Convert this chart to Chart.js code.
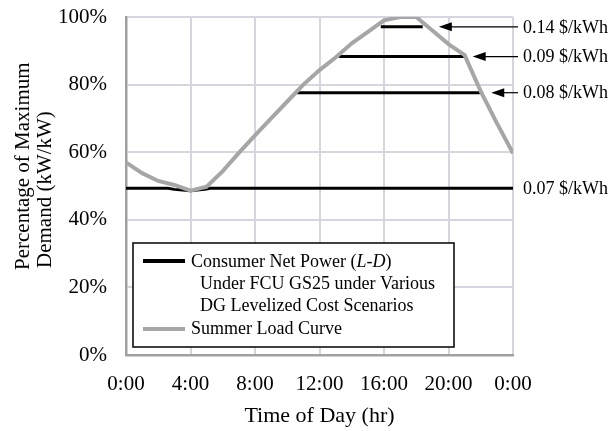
<!DOCTYPE html>
<html>
<head>
<meta charset="utf-8">
<script src="https://cdn.jsdelivr.net/npm/chart.js@4/dist/chart.umd.min.js"></script>
<style>
  html, body { margin: 0; padding: 0; background: #fff; }
  #wrap { width: 612px; height: 431px; position: relative; }
</style>
</head>
<body>
<div id="wrap"><canvas id="grafico"></canvas></div>
<script>
const fonte = '"Liberation Serif", "Times New Roman", serif';

// summer load curve, hourly (% of max demand)
const horas = [0,1,2,3,4,5,6,7,8,9,10,11,12,13,14,15,16,17,18,19,20,21,22,23,24];
const cargaVerao = [57,53.8,51.5,50.3,48.6,49.8,54.4,59.8,65,70,75,80,84.3,88,92.2,95.6,99,100,100,96,92,88.7,78,68.6,59.7];

// consumer net power at 0.07 $/kWh (follows load where load is below the cap)
const horas07 = [0, 2.6, 3, 4, 5, 5.2, 24];
const liquido07 = [49.3, 49.3, 49.0, 48.6, 49.1, 49.3, 49.3];

// capped segments for the other scenarios
const cenarios = ["0.14 $/kWh", "0.09 $/kWh", "0.08 $/kWh", "0.07 $/kWh"];
const niveis = [97.1, 88.3, 77.6, 49.3];
const inicio = [15.8, 13.2, 10.6, 0];
const fim = [18.4, 21.0, 22.1, 24];
const pontaSeta = [19.4, 21.5, 22.65, null];

const eixoX = [0, 4, 8, 12, 16, 20, 24];

const pts = (xs, ys) => xs.map((x, i) => ({x: x, y: ys[i]}));

let datasets = [{
  label: "Summer Load Curve",
  data: pts(horas, cargaVerao),
  borderColor: "#a6a6a6",
  borderWidth: 4,
  pointRadius: 0,
  tension: 0
}, {
  label: "0.07",
  data: pts(horas07, liquido07),
  borderColor: "#000",
  borderWidth: 3,
  pointRadius: 0,
  tension: 0
}];
for (let i = 0; i < 3; i++) {
  datasets.push({
    label: cenarios[i],
    data: pts([inicio[i], fim[i]], [niveis[i], niveis[i]]),
    borderColor: "#000",
    borderWidth: 3,
    pointRadius: 0
  });
}

const extras = {
  id: "extras",
  afterDatasetsDraw(chart) {
    const ctx = chart.ctx, xs = chart.scales.x, ys = chart.scales.y, a = chart.chartArea;
    ctx.save();
    ctx.fillStyle = "#000";
    ctx.strokeStyle = "#000";
    ctx.font = "18px " + fonte;
    ctx.textBaseline = "middle";
    cenarios.forEach((c, i) => {
      const y = ys.getPixelForValue(niveis[i]);
      ctx.fillText(c, a.right + 10, y + 1);
      if (pontaSeta[i] != null) {
        const tip = xs.getPixelForValue(pontaSeta[i]);
        ctx.lineWidth = 1.2;
        ctx.beginPath();
        ctx.moveTo(a.right + 5, y);
        ctx.lineTo(tip + 10, y);
        ctx.stroke();
        ctx.beginPath();
        ctx.moveTo(tip, y);
        ctx.lineTo(tip + 13, y - 4.5);
        ctx.lineTo(tip + 13, y + 4.5);
        ctx.closePath();
        ctx.fill();
      }
    });

    // axis titles
    ctx.font = "22px " + fonte;
    ctx.textAlign = "center";
    ctx.fillText("Time of Day (hr)", (a.left + a.right) / 2, 416);
    ctx.save();
    ctx.font = "21px " + fonte;
    ctx.textAlign = "left";
    ctx.translate(23, 270);
    ctx.rotate(-Math.PI / 2);
    ctx.fillText("Percentage of Maximum", 0, 0);
    ctx.fillText("Demand (kW/kW)", 2, 22);
    ctx.restore();

    // legend
    ctx.textAlign = "left";
    ctx.fillStyle = "#fff";
    ctx.fillRect(133, 243, 321, 104);
    ctx.lineWidth = 1.5;
    ctx.strokeRect(133, 243, 321, 104);
    ctx.lineWidth = 4;
    ctx.strokeStyle = "#000";
    ctx.beginPath(); ctx.moveTo(143, 261); ctx.lineTo(185, 261); ctx.stroke();
    ctx.strokeStyle = "#a6a6a6";
    ctx.beginPath(); ctx.moveTo(143, 329); ctx.lineTo(185, 329); ctx.stroke();
    ctx.fillStyle = "#000";
    ctx.font = "18px " + fonte;
    let t = "Consumer Net Power ";
    ctx.fillText(t, 191, 262);
    let w = ctx.measureText(t).width;
    ctx.fillText("(", 191 + w, 262);
    w += ctx.measureText("(").width;
    ctx.font = "italic 18px " + fonte;
    ctx.fillText("L-D", 191 + w, 262);
    w += ctx.measureText("L-D").width;
    ctx.font = "18px " + fonte;
    ctx.fillText(")", 191 + w, 262);
    ctx.fillText("Under FCU GS25 under Various", 200, 284);
    ctx.fillText("DG Levelized Cost Scenarios", 200, 306);
    ctx.fillText("Summer Load Curve", 191, 329);
    ctx.restore();
  }
};

new Chart(document.getElementById("grafico"), {
  type: "line",
  data: { datasets: datasets },
  options: {
    responsive: true,
    maintainAspectRatio: false,
    animation: false,
    layout: { padding: { left: 0, right: 99, top: 17, bottom: 0 } },
    plugins: { legend: { display: false }, tooltip: { enabled: false } },
    scales: {
      x: {
        type: "linear", min: 0, max: 24,
        afterFit: s => { s.height = 76; s.paddingLeft = 0; s.paddingRight = 0; },
        afterBuildTicks: s => { s.ticks = eixoX.map(v => ({value: v})); },
        ticks: { padding: 17, color: "#000", font: { family: fonte, size: 21 },
          callback: v => (v % 24) + ":00" },
        grid: { color: "#d6d6de", lineWidth: 2, drawTicks: false },
        border: { color: "#a0a0a0", width: 2.5 }
      },
      y: {
        min: 0, max: 100,
        afterFit: s => { s.width = 126; s.paddingTop = 0; s.paddingBottom = 0; },
        ticks: { stepSize: 20, padding: 19, color: "#000", font: { family: fonte, size: 21 },
          callback: v => v + "%" },
        grid: { color: "#d6d6de", lineWidth: 2, drawTicks: false },
        border: { color: "#a0a0a0", width: 2.5 }
      }
    }
  },
  plugins: [extras]
});
</script>
</body>
</html>
